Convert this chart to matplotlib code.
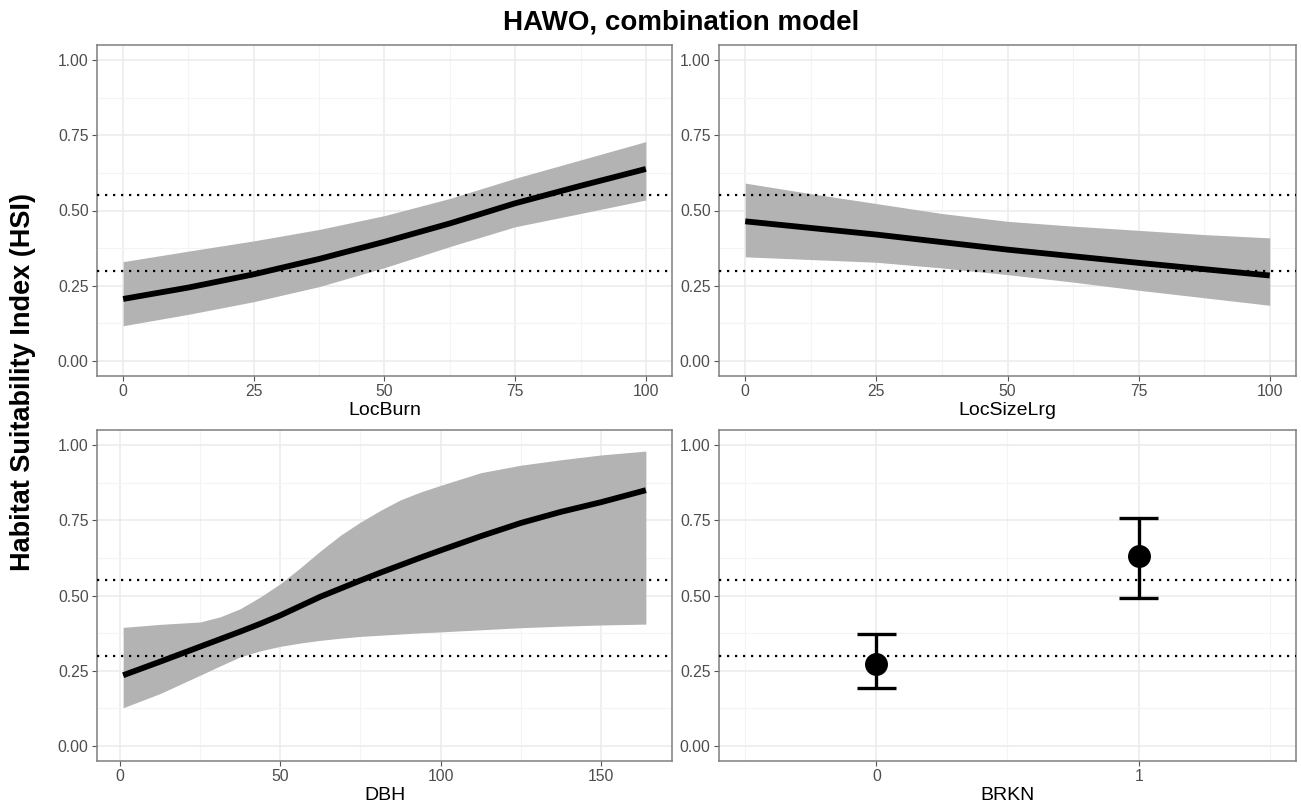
import matplotlib.pyplot as plt
from matplotlib.ticker import MultipleLocator, FixedLocator

plt.rcParams['font.family'] = ['Liberation Sans', 'DejaVu Sans']

# Predicted HSI with 95% bands for each covariate
locburn_x = [0, 12.5, 25, 37.5, 50, 62.5, 75, 87.5, 100]
locburn_fit = [0.206, 0.244, 0.288, 0.339, 0.396, 0.457, 0.524, 0.582, 0.638]
locburn_hi = [0.330, 0.365, 0.399, 0.437, 0.483, 0.540, 0.607, 0.668, 0.729]
locburn_lo = [0.117, 0.155, 0.197, 0.247, 0.310, 0.380, 0.446, 0.490, 0.535]

locsize_x = [0, 12.5, 25, 37.5, 50, 62.5, 75, 87.5, 100]
locsize_fit = [0.464, 0.442, 0.420, 0.395, 0.370, 0.348, 0.326, 0.305, 0.284]
locsize_hi = [0.591, 0.556, 0.523, 0.490, 0.464, 0.448, 0.434, 0.420, 0.409]
locsize_lo = [0.346, 0.337, 0.328, 0.309, 0.287, 0.262, 0.235, 0.210, 0.185]

dbh_x = [1, 12.5, 25, 31.25, 37.5, 43.75, 50, 56.25, 62.5, 68.75, 75, 81.25,
         87.5, 93.75, 100, 112.5, 125, 137.5, 150, 164]
dbh_fit = [0.235, 0.280, 0.330, 0.355, 0.380, 0.406, 0.434, 0.465, 0.496, 0.523,
           0.550, 0.576, 0.601, 0.626, 0.650, 0.697, 0.741, 0.778, 0.810, 0.850]
dbh_hi = [0.394, 0.404, 0.412, 0.429, 0.456, 0.495, 0.539, 0.592, 0.648, 0.700,
          0.744, 0.783, 0.818, 0.844, 0.866, 0.908, 0.933, 0.951, 0.967, 0.980]
dbh_lo = [0.127, 0.174, 0.235, 0.266, 0.296, 0.316, 0.331, 0.342, 0.351, 0.358,
          0.364, 0.368, 0.372, 0.376, 0.379, 0.386, 0.393, 0.398, 0.402, 0.405]

brkn_cat = ['0', '1']
brkn_fit = [0.272, 0.632]
brkn_lo = [0.192, 0.493]
brkn_hi = [0.371, 0.758]

thresholds = [0.30, 0.55]

W, H = 1301, 807
fig = plt.figure(figsize=(W / 100, H / 100), dpi=100)
fig.patch.set_facecolor('white')


def panel(x0, y0, x1, y1):
    return fig.add_axes([x0 / W, 1 - y1 / H, (x1 - x0) / W, (y1 - y0) / H])


def style(ax, xlabel):
    ax.set_ylim(-0.05, 1.05)
    ax.yaxis.set_major_locator(MultipleLocator(0.25))
    ax.yaxis.set_minor_locator(MultipleLocator(0.125))
    ax.yaxis.set_major_formatter(plt.FuncFormatter(lambda v, p: f'{v:.2f}'))
    ax.grid(True, which='major', color='#ebebeb', lw=1.1, zorder=0)
    ax.grid(True, which='minor', color='#f4f4f4', lw=0.8, zorder=0)
    ax.set_axisbelow(True)
    for s in ax.spines.values():
        s.set_color('#7f7f7f')
        s.set_linewidth(1.1)
    ax.tick_params(which='major', length=3.5, width=0.8, color='#555555',
                   labelsize=11.3, labelcolor='#4d4d4d', pad=2.5)
    ax.tick_params(which='minor', length=0)
    ax.set_xlabel(xlabel, fontsize=14, labelpad=2)
    for t in thresholds:
        ax.axhline(t, color='black', lw=1.6, linestyle=(0, (1, 2.6)), zorder=3)


def curve(ax, x, fit, lo, hi):
    ax.fill_between(x, lo, hi, color='#b3b3b3', lw=0, zorder=1)
    ax.plot(x, fit, color='black', lw=4.2, solid_capstyle='butt', zorder=2)


# LocBurn
ax1 = panel(97, 45, 672, 376)
curve(ax1, locburn_x, locburn_fit, locburn_lo, locburn_hi)
ax1.set_xlim(-5, 105)
ax1.xaxis.set_major_locator(MultipleLocator(25))
ax1.xaxis.set_minor_locator(MultipleLocator(12.5))
style(ax1, 'LocBurn')

# LocSizeLrg
ax2 = panel(719, 45, 1296, 376)
curve(ax2, locsize_x, locsize_fit, locsize_lo, locsize_hi)
ax2.set_xlim(-5, 105)
ax2.xaxis.set_major_locator(MultipleLocator(25))
ax2.xaxis.set_minor_locator(MultipleLocator(12.5))
style(ax2, 'LocSizeLrg')

# DBH
ax3 = panel(97, 430, 672, 761)
curve(ax3, dbh_x, dbh_fit, dbh_lo, dbh_hi)
span = dbh_x[-1] - dbh_x[0]
ax3.set_xlim(dbh_x[0] - 0.05 * span, dbh_x[-1] + 0.05 * span)
ax3.xaxis.set_major_locator(MultipleLocator(50))
ax3.xaxis.set_minor_locator(MultipleLocator(25))
style(ax3, 'DBH')

# BRKN (categorical)
ax4 = panel(719, 430, 1296, 761)
pos = list(range(len(brkn_cat)))
ax4.vlines(pos, brkn_lo, brkn_hi, color='black', lw=2.4, zorder=4)
ax4.hlines(brkn_lo, [p - 0.075 for p in pos], [p + 0.075 for p in pos],
           color='black', lw=2.4, zorder=4)
ax4.hlines(brkn_hi, [p - 0.075 for p in pos], [p + 0.075 for p in pos],
           color='black', lw=2.4, zorder=4)
ax4.plot(pos, brkn_fit, 'o', color='black', ms=15.5, zorder=5)
ax4.set_xlim(-0.6, len(brkn_cat) - 1 + 0.6)
ax4.xaxis.set_major_locator(FixedLocator(pos))
ax4.xaxis.set_minor_locator(FixedLocator([-0.5, 0.5, 1.5]))
ax4.set_xticklabels(brkn_cat)
style(ax4, 'BRKN')

fig.text(681 / W, 1 - 22 / H, 'HAWO, combination model', ha='center', va='center',
         fontsize=20, fontweight='bold')
fig.text(23 / W, 1 - 382 / H, 'Habitat Suitability Index (HSI)', ha='center',
         va='center', rotation=90, fontsize=19.5, fontweight='bold')

fig.savefig('out.png', dpi=100, facecolor='white')
